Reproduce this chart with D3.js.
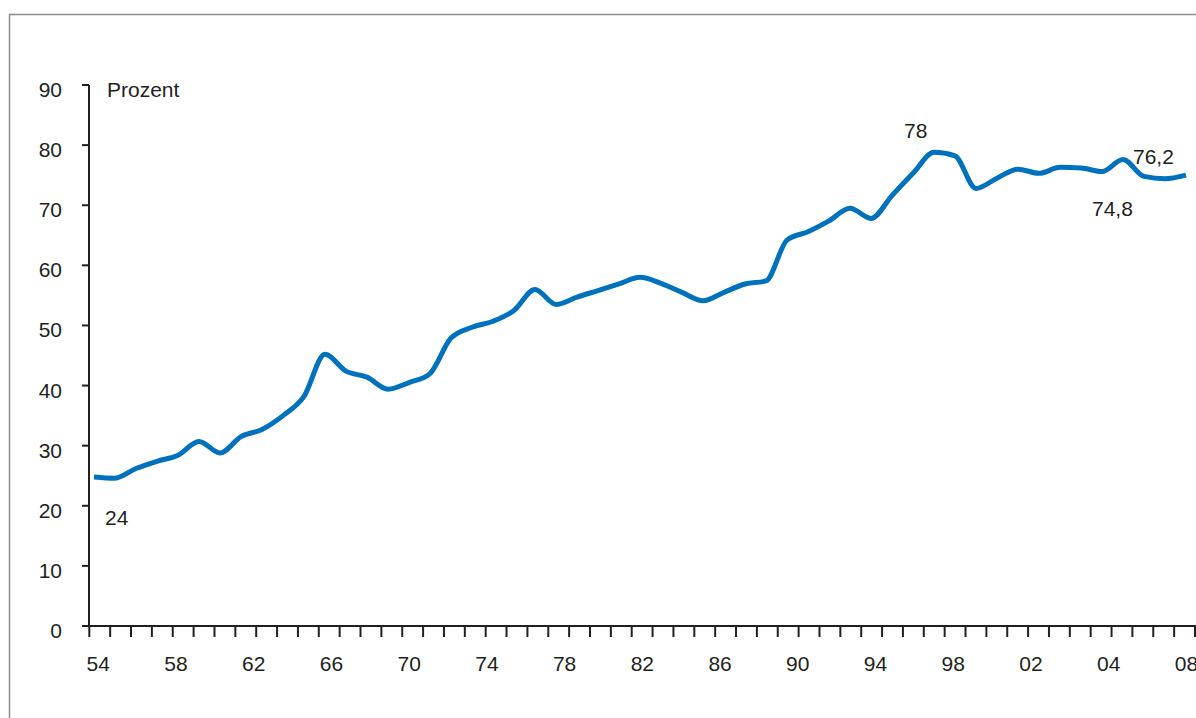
<!DOCTYPE html>
<html>
<head>
<meta charset="utf-8">
<script src="https://cdn.jsdelivr.net/npm/d3@7/dist/d3.min.js"></script>
<style>
  body { margin: 0; background: #fff; }
  text { font-family: "Liberation Sans", Arial, sans-serif; fill: #231f20; }
</style>
</head>
<body>
<div id="chart"></div>
<script>
// Jahre (eine Messung pro Jahr)
const years = d3.range(1954, 2007);
// Anteil in Prozent
const values = [
  24.8, 24.6, 26.2, 27.4, 28.4, 30.7, 28.8, 31.5, 32.7, 35.0,
  38.2, 45.2, 42.4, 41.4, 39.4, 40.5, 42.0, 47.9, 49.7, 50.7,
  52.5, 56.0, 53.5, 54.7, 55.8, 56.9, 58.0, 57.0, 55.5, 54.1,
  55.5, 56.9, 57.4, 64.2, 65.6, 67.4, 69.5, 67.8, 71.6, 75.3,
  78.8, 78.2, 72.8, 74.5, 76.0, 75.3, 76.3, 76.2, 75.6, 77.6,
  74.8, 74.4, 75.0
];
const xLabels = ["54", "58", "62", "66", "70", "74", "78", "82", "86", "90", "94", "98", "02", "04", "08"];
const yTicks = [0, 10, 20, 30, 40, 50, 60, 70, 80, 90];
const tickYears = d3.range(1954, 2008);

// Beschriftungen im Diagramm
const notes = [
  { text: "24", year: 1954, value: 24.8 },
  { text: "78", year: 1994, value: 78.8 },
  { text: "76,2", year: 2004, value: 77.6 },
  { text: "74,8", year: 2003, value: 75.6 }
];

const width = 1196;
const height = 718;

const svg = d3.select("#chart")
  .append("svg")
  .attr("width", width)
  .attr("height", height);

const y = d3.scaleLinear().domain([0, 90]).range([626, 85]);
const x = d3.scaleLinear().domain([1954, 2006]).range([94, 1186]);
const xTick = d3.scaleLinear().domain([1954, 2007]).range([89.3, 1195]);
const xLab = d3.scalePoint().domain(xLabels).range([98.3, 1186.4]);

// Rahmen
svg.append("path")
  .attr("d", `M9.5,${height} V14.5 H${width}`)
  .attr("fill", "none")
  .attr("stroke", "#8a8a8a")
  .attr("stroke-width", 1.5);

const axisColor = "#231f20";

// y-Achse
svg.append("line")
  .attr("x1", 89).attr("x2", 89)
  .attr("y1", y(90)).attr("y2", y(0))
  .attr("stroke", axisColor).attr("stroke-width", 2);

svg.selectAll(".ytick")
  .data(yTicks)
  .enter()
  .append("line")
  .attr("x1", 82).attr("x2", 89)
  .attr("y1", d => y(d)).attr("y2", d => y(d))
  .attr("stroke", axisColor).attr("stroke-width", 2);

svg.selectAll(".ylab")
  .data(yTicks)
  .enter()
  .append("text")
  .attr("x", 62)
  .attr("y", d => y(d) + 12)
  .attr("text-anchor", "end")
  .attr("font-size", "21px")
  .text(d => d);

// x-Achse
svg.append("line")
  .attr("x1", 82).attr("x2", width)
  .attr("y1", y(0)).attr("y2", y(0))
  .attr("stroke", axisColor).attr("stroke-width", 2);

svg.selectAll(".xtick")
  .data(tickYears)
  .enter()
  .append("line")
  .attr("x1", d => xTick(d)).attr("x2", d => xTick(d))
  .attr("y1", y(0)).attr("y2", y(0) + 11)
  .attr("stroke", axisColor).attr("stroke-width", 2);

svg.selectAll(".xlab")
  .data(xLabels)
  .enter()
  .append("text")
  .attr("x", d => xLab(d))
  .attr("y", 671)
  .attr("text-anchor", "middle")
  .attr("font-size", "21px")
  .text(d => d);

svg.append("text")
  .attr("x", 107)
  .attr("y", 97)
  .attr("font-size", "21px")
  .text("Prozent");

// Linie
const line = d3.line()
  .x((d, i) => x(years[i]))
  .y(d => y(d))
  .curve(d3.curveMonotoneX);

svg.append("path")
  .datum(values)
  .attr("d", line)
  .attr("fill", "none")
  .attr("stroke", "#0071bc")
  .attr("stroke-width", 5)
  .attr("stroke-linejoin", "round");

// Werte-Beschriftungen
const noteOffset = { "24": [11, 48], "78": [-30, -14], "76,2": [-11, 4], "74,8": [-31, 44] };
svg.selectAll(".note")
  .data(notes)
  .enter()
  .append("text")
  .attr("x", d => x(d.year) + noteOffset[d.text][0])
  .attr("y", d => y(d.value) + noteOffset[d.text][1])
  .attr("font-size", "21px")
  .text(d => d.text);
</script>
</body>
</html>
